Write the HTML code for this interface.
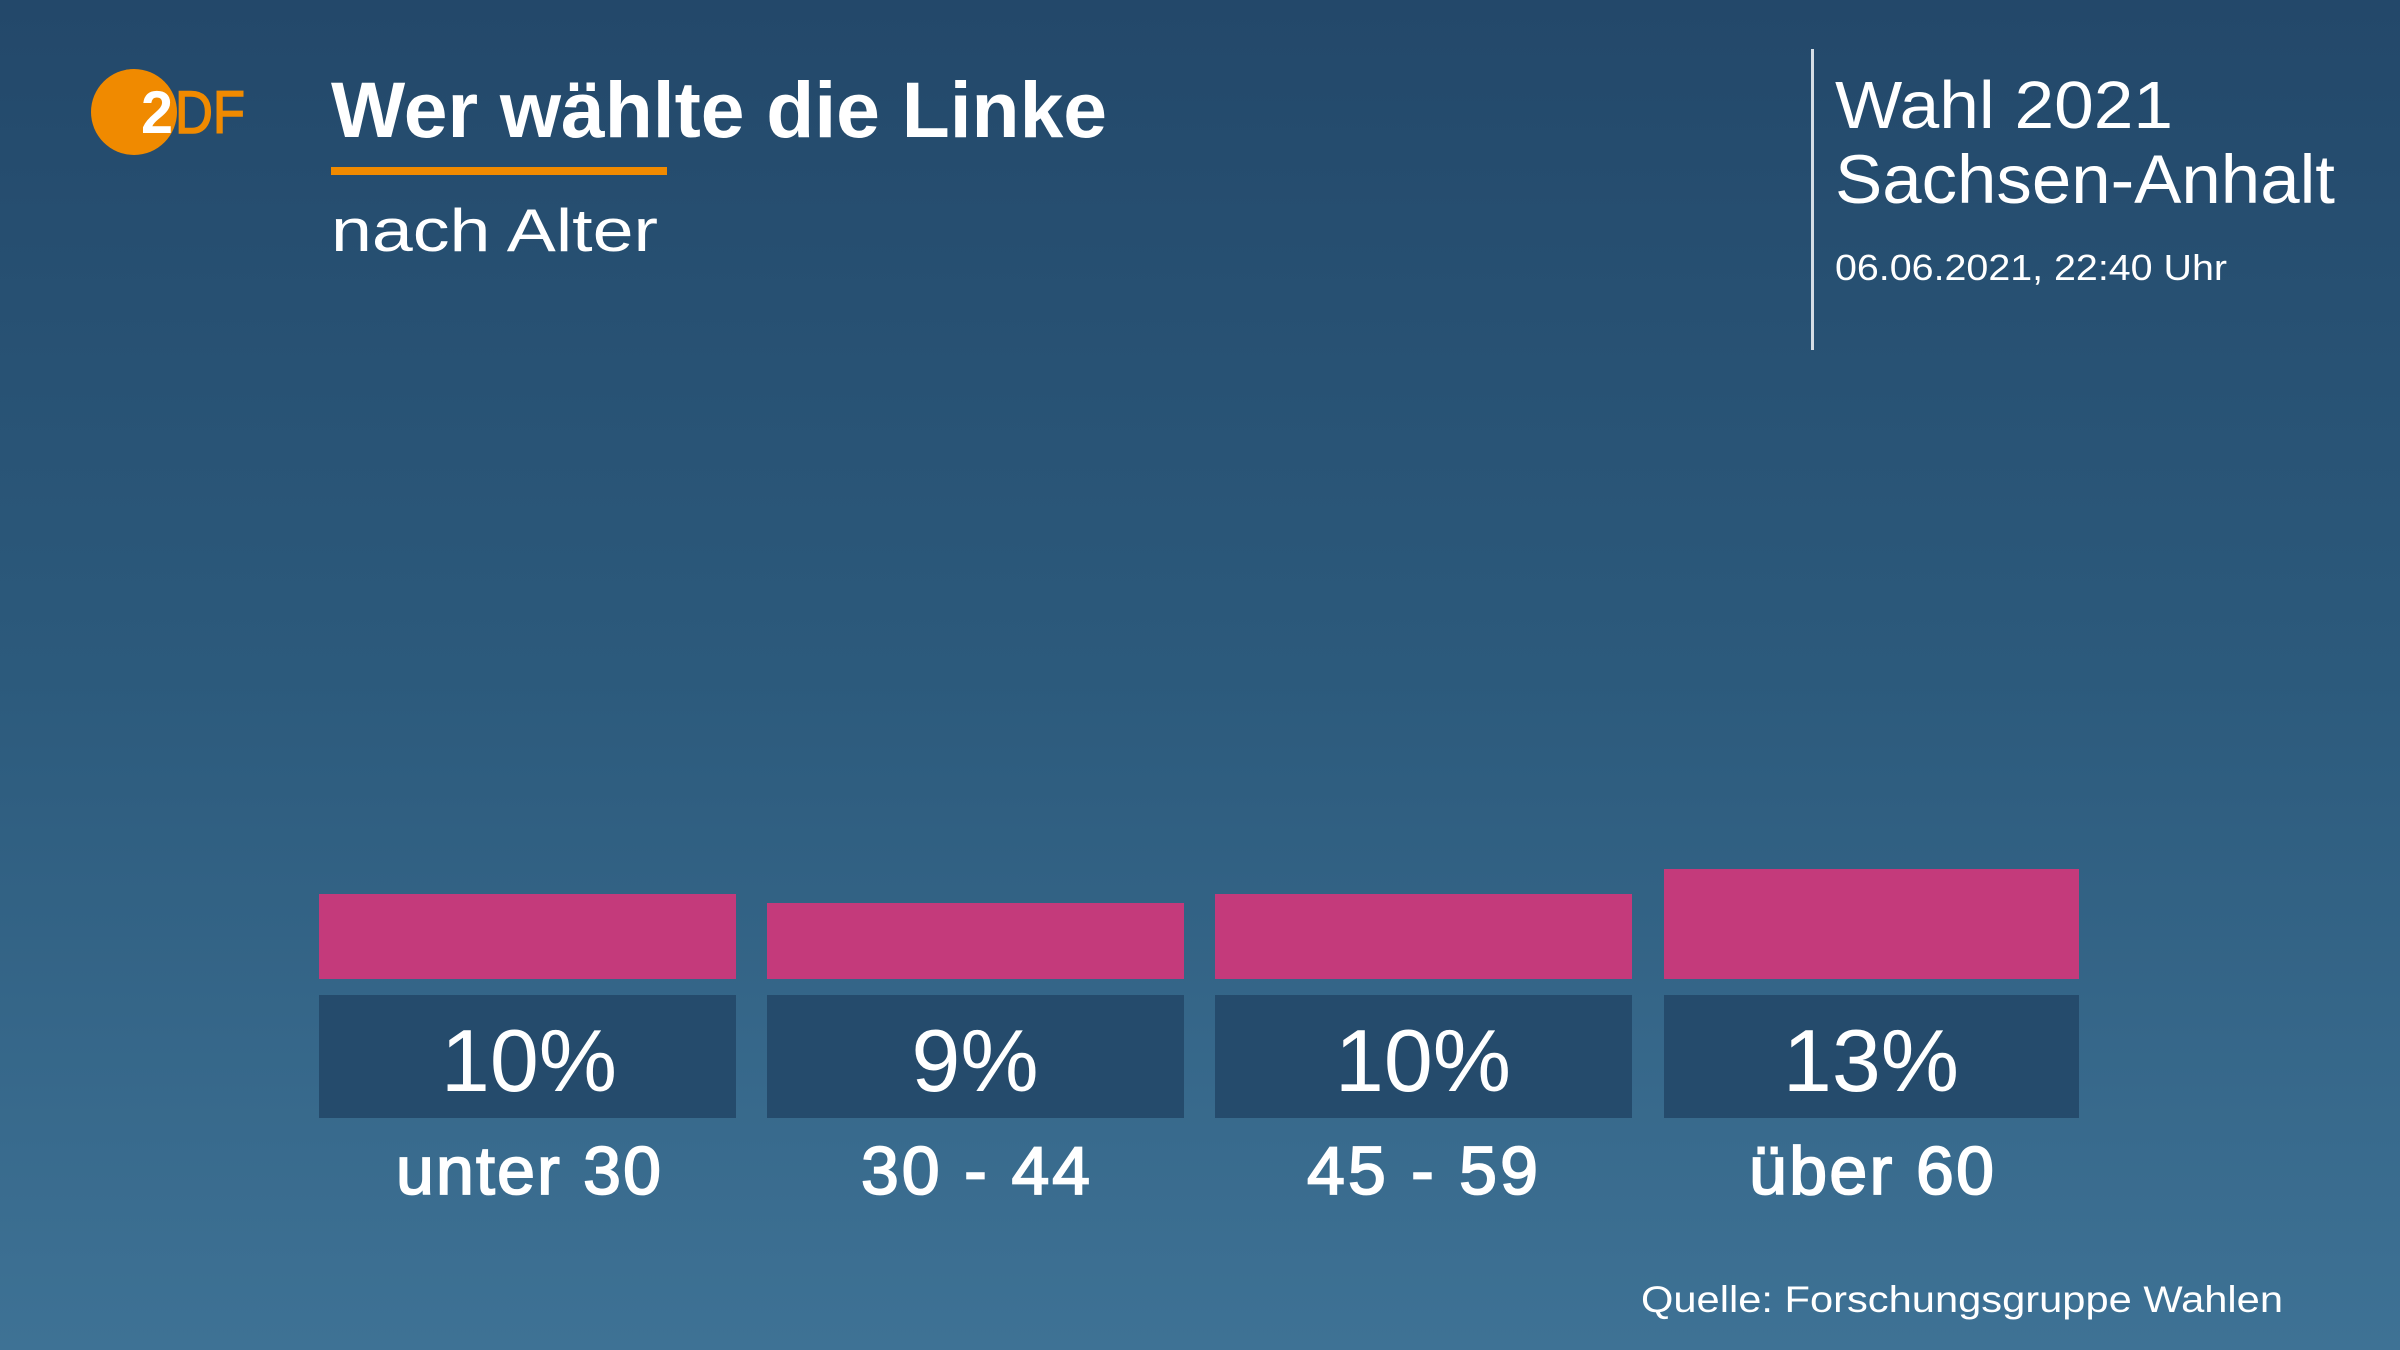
<!DOCTYPE html>
<html>
<head>
<meta charset="utf-8">
<style>
  html,body{margin:0;padding:0;width:2400px;height:1350px;overflow:hidden;background:#2c5a7c;}
  svg{display:block;}
  text{font-family:"Liberation Sans", Arial, sans-serif;fill:#ffffff;}
</style>
</head>
<body>
<svg width="2400" height="1350" viewBox="0 0 2400 1350" xmlns="http://www.w3.org/2000/svg">
  <defs>
    <linearGradient id="bg" x1="0" y1="0" x2="0" y2="1">
      <stop offset="0" stop-color="#23486a"/>
      <stop offset="0.5" stop-color="#2c5a7c"/>
      <stop offset="1" stop-color="#3e7295"/>
    </linearGradient>
  </defs>
  <rect x="0" y="0" width="2400" height="1350" fill="url(#bg)"/>

  <!-- ZDF logo -->
  <circle cx="134" cy="112" r="43" fill="#f08a00"/>
  <text x="141" y="133" font-size="60" font-weight="bold" style="fill:#ffffff" textLength="32" lengthAdjust="spacingAndGlyphs">2</text>
  <text x="175" y="133" font-size="60" style="fill:#f08a00;stroke:#f08a00;stroke-width:1.5" textLength="70" lengthAdjust="spacingAndGlyphs">DF</text>

  <!-- Title -->
  <text x="331" y="137" font-size="79" font-weight="bold" textLength="776" lengthAdjust="spacingAndGlyphs">Wer wählte die Linke</text>
  <rect x="331" y="167" width="336" height="8" fill="#f08a00"/>
  <text x="331" y="251" font-size="60" textLength="327" lengthAdjust="spacingAndGlyphs">nach Alter</text>

  <!-- Right header -->
  <rect x="1811" y="49" width="3" height="301" fill="#d5dde5"/>
  <text x="1835" y="128" font-size="67" textLength="338" lengthAdjust="spacingAndGlyphs">Wahl 2021</text>
  <text x="1835" y="203" font-size="69" textLength="500" lengthAdjust="spacingAndGlyphs">Sachsen-Anhalt</text>
  <text x="1835" y="280" font-size="36" textLength="392" lengthAdjust="spacingAndGlyphs">06.06.2021, 22:40 Uhr</text>

  <!-- Bars -->
  <rect x="319" y="894" width="417" height="85" fill="#c43a7b"/>
  <rect x="767" y="903" width="417" height="76" fill="#c43a7b"/>
  <rect x="1215" y="894" width="417" height="85" fill="#c43a7b"/>
  <rect x="1664" y="869" width="415" height="110" fill="#c43a7b"/>

  <!-- Value boxes -->
  <rect x="319" y="995" width="417" height="123" fill="#254b6c"/>
  <rect x="767" y="995" width="417" height="123" fill="#254b6c"/>
  <rect x="1215" y="995" width="417" height="123" fill="#254b6c"/>
  <rect x="1664" y="995" width="415" height="123" fill="#254b6c"/>

  <text x="529" y="1091" font-size="88" text-anchor="middle">10%</text>
  <text x="975" y="1091" font-size="88" text-anchor="middle">9%</text>
  <text x="1423" y="1091" font-size="88" text-anchor="middle">10%</text>
  <text x="1871" y="1091" font-size="88" text-anchor="middle">13%</text>

  <!-- Category labels -->
  <g style="stroke:#ffffff;stroke-width:1.8">
  <text x="396" y="1194" font-size="68" textLength="265" lengthAdjust="spacing">unter 30</text>
  <text x="861" y="1194" font-size="68" textLength="229" lengthAdjust="spacing">30 - 44</text>
  <text x="1307" y="1194" font-size="68" textLength="231" lengthAdjust="spacing">45 - 59</text>
  <text x="1749" y="1194" font-size="68" textLength="245" lengthAdjust="spacing">über 60</text>
  </g>

  <!-- Source -->
  <text x="1641" y="1312" font-size="37" textLength="642" lengthAdjust="spacingAndGlyphs">Quelle: Forschungsgruppe Wahlen</text>
</svg>
</body>
</html>
